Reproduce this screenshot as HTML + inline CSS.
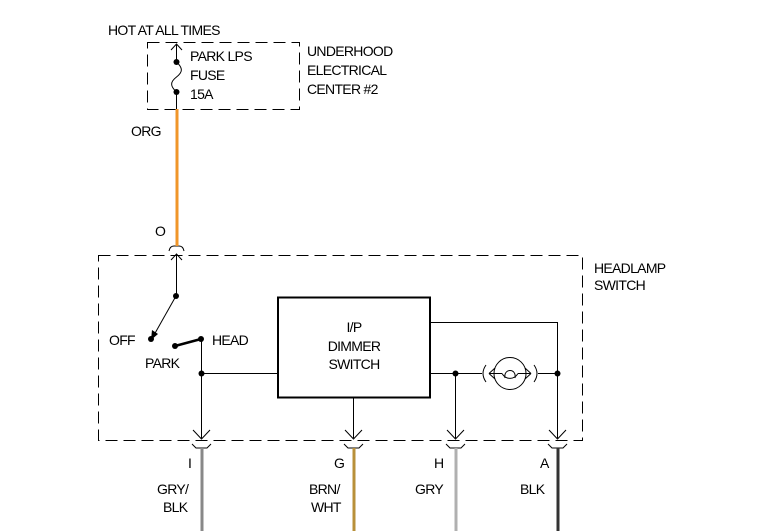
<!DOCTYPE html>
<html><head><meta charset="utf-8"><style>
html,body{margin:0;padding:0;background:#fff;}
svg{display:block}
text{font-family:"Liberation Sans",sans-serif;font-size:14px;fill:#000;letter-spacing:-0.7px;}
</style></head><body>
<svg width="772" height="531" viewBox="0 0 772 531" xmlns="http://www.w3.org/2000/svg">
<g fill="none" stroke="#000" stroke-width="1">
<rect x="147.5" y="42.5" width="152" height="67" stroke-dasharray="12,6"/>
<rect x="98.5" y="255.5" width="484" height="185" stroke-dasharray="12,6"/>
<path d="M176.5 44 V62"/>
<path d="M171 50 L176.5 44 L182 50"/>
<path d="M176.5 62 C183 68,183 72,176.5 77 C170 82,170 86,176.5 92"/>
<path d="M176.5 92 V109"/>
<path d="M169 251 Q170 246 174 246 H179 Q183 246 184 251"/>
<path d="M176.5 254 V296"/>
<path d="M171 260 L176.5 254 L182 260"/>
<path d="M176 296 L154 335"/>
<path d="M175 346 L201 339" stroke-width="2.5"/>
<path d="M201.5 339 V438"/>
<path d="M201.5 373.5 H278"/>
<rect x="278" y="297.5" width="152" height="100" stroke-width="2"/>
<path d="M430 322.5 H557.5 V438"/>
<path d="M430 373.5 H482"/>
<path d="M538 373.5 H557"/>
<path d="M455.5 373.5 V438"/>
<path d="M353.5 397 V438"/>
<circle cx="510" cy="373.5" r="16"/>
<path d="M486 365 Q480 373.5 486 382"/>
<path d="M534 365 Q540 373.5 534 382"/>
<path d="M489 373.5 H502 M518 373.5 H531"/>
<path d="M502 373.5 C506 380,514 380,518 373.5"/>
<path d="M505 378 C503 368,517 368,515 378"/>
<path d="M489 373.5 L495 368 M489 373.5 L495 379 M531 373.5 L525 368 M531 373.5 L525 379"/>
<g id="c">
<path d="M193 430 L201.5 439 L210 430"/>
<path d="M192 444 L196 448 H207 L211 444"/>
</g>
<use href="#c" x="152"/>
<use href="#c" x="254"/>
<use href="#c" x="356"/>
</g>
<g fill="#000">
<polygon points="151,340 152,330 158,334"/>
<circle cx="176.5" cy="62" r="3"/><circle cx="176.5" cy="92" r="3"/>
<circle cx="176" cy="296" r="3"/><circle cx="151" cy="339" r="3"/>
<circle cx="175" cy="346" r="3"/><circle cx="201" cy="339" r="3"/>
<circle cx="201.5" cy="373.5" r="3"/><circle cx="455.5" cy="373.5" r="3"/>
<circle cx="557.5" cy="373.5" r="3"/>
</g>
<line x1="177" y1="109" x2="177" y2="246" stroke="#f0962a" stroke-width="3"/>
<line x1="202" y1="448" x2="202" y2="531" stroke="#888" stroke-width="3"/>
<line x1="354" y1="448" x2="354" y2="531" stroke="#b8903a" stroke-width="3"/>
<line x1="456" y1="448" x2="456" y2="531" stroke="#b0b0b0" stroke-width="3"/>
<line x1="558" y1="448" x2="558" y2="531" stroke="#333" stroke-width="3"/>
<text x="108" y="35">HOT AT ALL TIMES</text>
<text x="190" y="61">PARK LPS</text>
<text x="190" y="80">FUSE</text>
<text x="190" y="99">15A</text>
<text x="307" y="56">UNDERHOOD</text>
<text x="307" y="75">ELECTRICAL</text>
<text x="307" y="94">CENTER #2</text>
<text x="131" y="136">ORG</text>
<text x="155" y="236">O</text>
<text x="594" y="273">HEADLAMP</text>
<text x="594" y="290">SWITCH</text>
<text x="109" y="345">OFF</text>
<text x="145" y="368">PARK</text>
<text x="212" y="345">HEAD</text>
<text x="354" y="332" text-anchor="middle">I/P</text>
<text x="354" y="351" text-anchor="middle">DIMMER</text>
<text x="354" y="369" text-anchor="middle">SWITCH</text>
<text x="188" y="468">I</text>
<text x="157" y="494">GRY/</text>
<text x="163" y="512">BLK</text>
<text x="334" y="468">G</text>
<text x="309" y="494">BRN/</text>
<text x="311" y="512">WHT</text>
<text x="434" y="468">H</text>
<text x="415" y="494">GRY</text>
<text x="540" y="468">A</text>
<text x="520" y="494">BLK</text>
</svg>
</body></html>
